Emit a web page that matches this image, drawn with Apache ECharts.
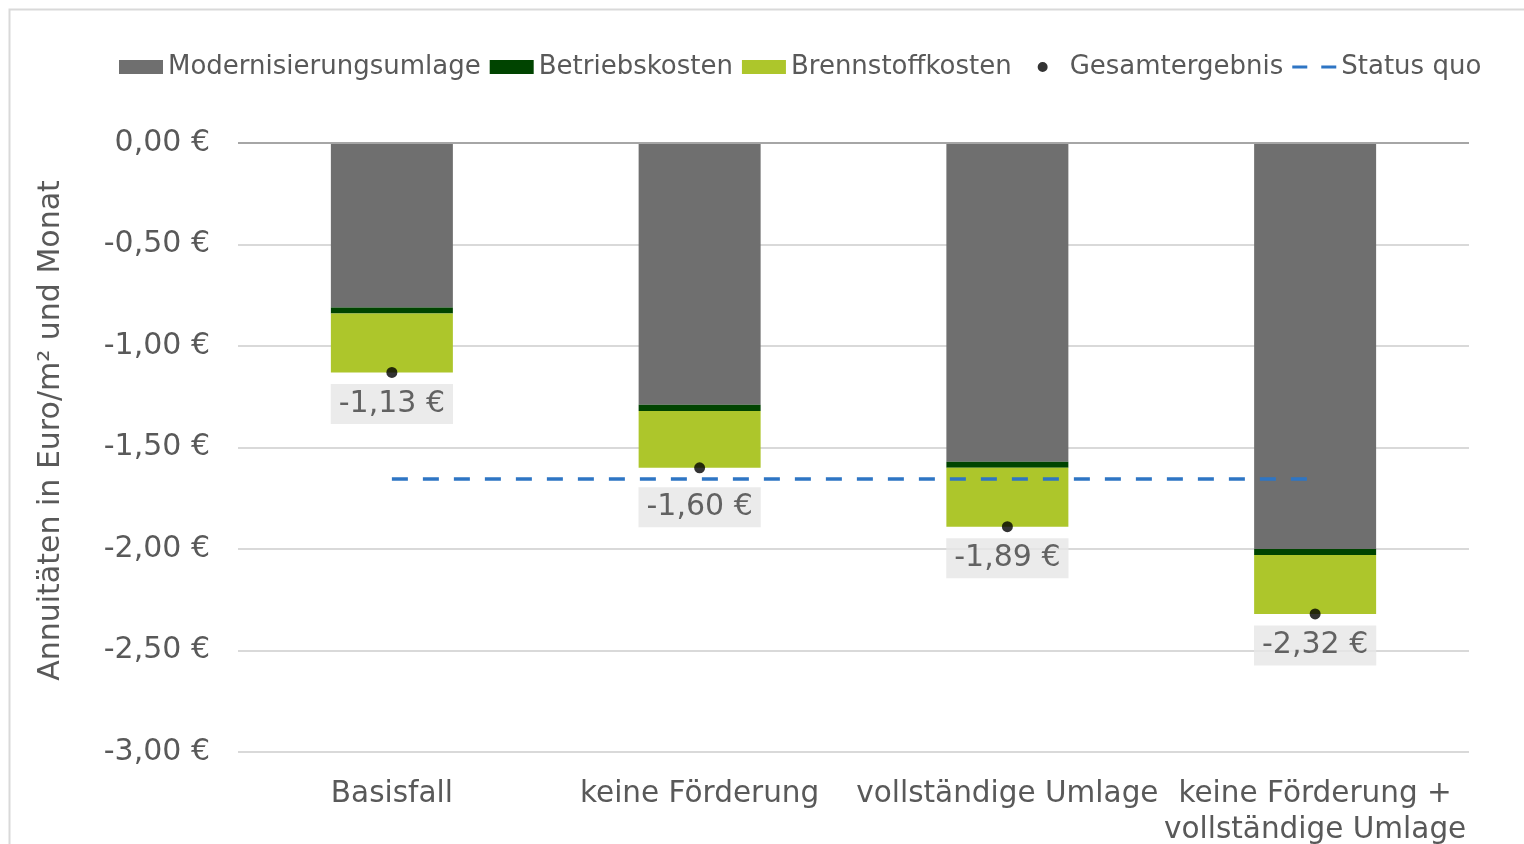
<!DOCTYPE html>
<html>

<head>
    <meta charset="utf-8">
    <title>Annuitäten</title>
    <style type="text/css">
        html,body{
            width: 100%;
            height: 100%;
            margin: 0;
            overflow: hidden;
            background: #fff;
        }
        #main{
            width: 1524px;
            height: 844px;
        }
    </style>
</head>
<body>
    <div id="main"></div>

    <script src="https://cdn.jsdelivr.net/npm/echarts@6/dist/echarts.min.js"></script>
    <script>
        // Daten
        var kategorien = ['Basisfall', 'keine Förderung', 'vollständige Umlage', 'keine Förderung +\nvollständige Umlage'];
        var modernisierung = [-0.81, -1.29, -1.57, -2.00];
        var betrieb = [-0.03, -0.03, -0.03, -0.03];
        var brennstoff = [-0.29, -0.28, -0.29, -0.29];
        var gesamt = [-1.13, -1.60, -1.89, -2.32];
        var statusQuo = [-1.655, -1.655, -1.655, -1.655];
        var labelAbstand = [6, 14, 6, 6];

        var textFarbe = '#595959';
        var fmt = function (v) {
            return v.toFixed(2).replace('.', ',') + ' €';
        };

        var myChart = echarts.init(document.getElementById('main'));

        var gesamtDaten = gesamt.map(function (v, i) {
            return { value: v, label: { distance: labelAbstand[i] } };
        });

        var option = {
            animation: false,
            textStyle: { fontFamily: 'DejaVu Sans' },
            graphic: [{
                type: 'rect',
                left: 7, top: 7,
                shape: { width: 1600, height: 900 },
                style: { fill: 'none', stroke: '#d9d9d9', lineWidth: 2 },
                silent: true
            }],
            legend: {
                left: 114,
                top: 49,
                itemWidth: 44,
                itemHeight: 14,
                itemGap: 9,
                textStyle: { color: textFarbe, fontSize: 26 },
                data: [
                    { name: 'Modernisierungsumlage', icon: 'rect' },
                    { name: 'Betriebskosten', icon: 'rect' },
                    { name: 'Brennstoffkosten', icon: 'rect' },
                    { name: 'Gesamtergebnis', icon: 'path://M0,0L0.01,0M44,14L44.01,14M17,7a5,5 0 1,0 10,0a5,5 0 1,0 -10,0Z' },
                    { name: 'Status quo', icon: 'path://M0,0L0.01,0M44,14L44.01,14M0,5.5L15,5.5L15,8.5L0,8.5ZM29,5.5L44,5.5L44,8.5L29,8.5Z' }
                ]
            },
            grid: {
                left: 238,
                right: 55,
                top: 143,
                bottom: 92,
                outerBoundsMode: 'none'
            },
            xAxis: {
                type: 'category',
                data: kategorien,
                axisLine: { show: false, onZero: false },
                axisTick: { show: false },
                axisLabel: {
                    color: textFarbe,
                    fontSize: 29.5,
                    lineHeight: 36,
                    margin: 24,
                    interval: 0
                }
            },
            yAxis: {
                type: 'value',
                min: -3,
                max: 0,
                interval: 0.5,
                name: 'Annuitäten in Euro/m² und Monat',
                nameLocation: 'middle',
                nameGap: 172,
                nameTextStyle: { color: textFarbe, fontSize: 30, padding: [0, 0, 0, 34] },
                axisLine: { show: false },
                axisTick: { show: false },
                axisLabel: {
                    color: textFarbe,
                    fontSize: 30,
                    margin: 28,
                    formatter: fmt
                },
                splitLine: { lineStyle: { color: '#d9d9d9', width: 2 } }
            },
            series: [
                {
                    name: 'Modernisierungsumlage',
                    type: 'bar',
                    stack: 'summe',
                    barWidth: 122,
                    itemStyle: { color: '#6f6f6f' },
                    data: modernisierung,
                    markLine: {
                        silent: true,
                        symbol: 'none',
                        label: { show: false },
                        lineStyle: { color: '#a6a6a6', width: 2, type: 'solid' },
                        data: [{ yAxis: 0 }]
                    }
                },
                {
                    name: 'Betriebskosten',
                    type: 'bar',
                    stack: 'summe',
                    itemStyle: { color: '#004400' },
                    data: betrieb
                },
                {
                    name: 'Brennstoffkosten',
                    type: 'bar',
                    stack: 'summe',
                    itemStyle: { color: '#adc62b' },
                    data: brennstoff
                },
                {
                    name: 'Status quo',
                    type: 'line',
                    symbol: 'none',
                    z: 4,
                    lineStyle: { color: '#2e75c4', width: 3.5, type: [16, 15] },
                    itemStyle: { color: '#2e75c4' },
                    data: statusQuo
                },
                {
                    name: 'Gesamtergebnis',
                    type: 'scatter',
                    symbol: 'circle',
                    symbolSize: 11,
                    z: 5,
                    itemStyle: { color: '#000' },
                    label: {
                        show: true,
                        position: 'bottom',
                        color: '#404040',
                        fontSize: 30,
                        lineHeight: 32,
                        backgroundColor: '#e6e6e6',
                        padding: [4, 8],
                        formatter: function (p) { return fmt(p.value); }
                    },
                    data: gesamtDaten
                }
            ]
        };

        myChart.setOption(option);
    </script>

</body>

</html>
